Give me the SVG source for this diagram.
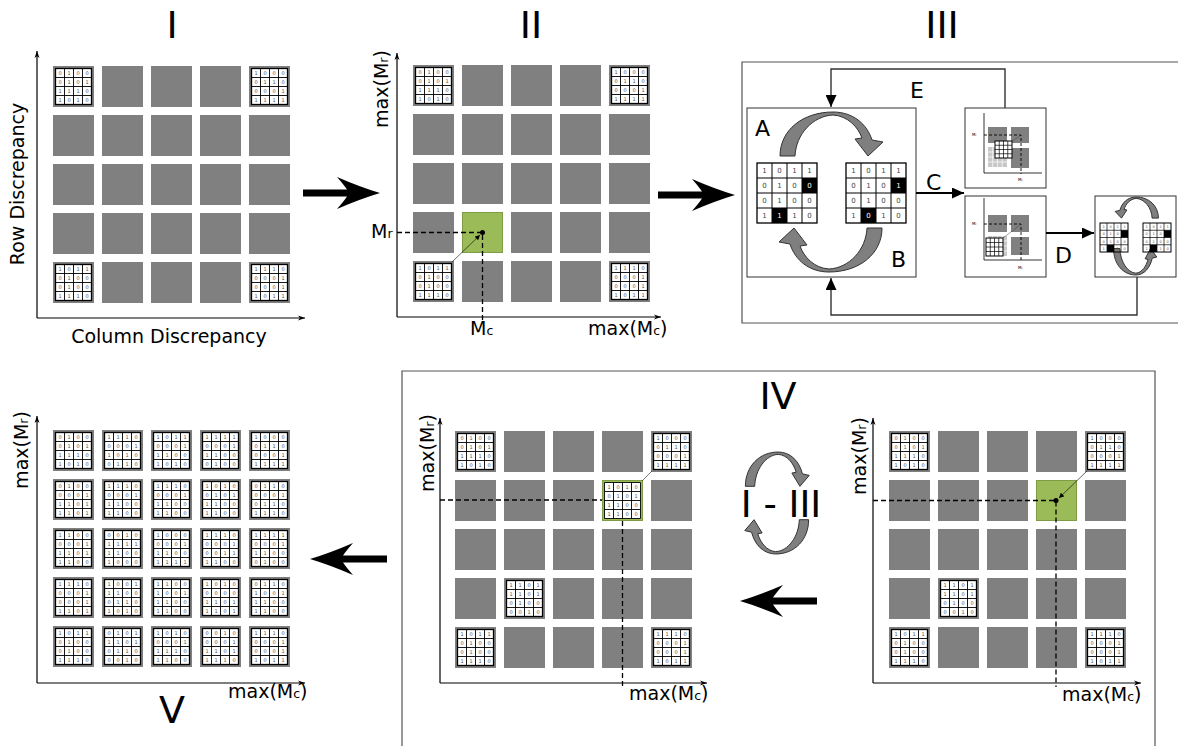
<svg xmlns="http://www.w3.org/2000/svg" xmlns:xlink="http://www.w3.org/1999/xlink" width="1178" height="746" viewBox="0 0 1178 746">
<style>
.c{fill:#808080}
.gr{fill:#9bbb59;stroke:#7e9c45;stroke-width:1}
.ax{stroke:#000;stroke-width:1.2;fill:none}
.dash{stroke:#000;stroke-width:1.3;stroke-dasharray:5 3;fill:none}
.d{font-family:'DejaVu Sans',sans-serif;font-size:5px;fill:#555;text-anchor:middle}
.d7{font-family:'DejaVu Sans',sans-serif;font-size:7px;fill:#444;text-anchor:middle}
.w7{font-family:'DejaVu Sans',sans-serif;font-size:7px;fill:#fff;text-anchor:middle}
.d3{font-family:'DejaVu Sans',sans-serif;font-size:3.5px;fill:#555;text-anchor:middle}
.lbl{font-family:'DejaVu Sans',sans-serif;font-size:19px;fill:#000}
.ttl{font-family:'DejaVu Sans',sans-serif;font-size:38px;fill:#000;text-anchor:middle}
.L{font-family:'DejaVu Sans',sans-serif;font-size:22px;fill:#000}
.tiny{font-family:'DejaVu Sans',sans-serif;font-size:4px;fill:#000}
.frame{fill:none;stroke:#555;stroke-width:1.2}
.carr{fill:#7f7f7f;stroke:#333;stroke-width:1}
.box{fill:#fff;stroke:#333;stroke-width:1}
.con{fill:none;stroke:#333;stroke-width:1.4}
.conb{fill:none;stroke:#000;stroke-width:2}
</style>
<defs>
<marker id="axh" markerUnits="userSpaceOnUse" markerWidth="8" markerHeight="6" refX="7" refY="3" orient="auto"><path d="M0,0.5 L7,3 L0,5.5 L2,3 Z" fill="#000"/></marker>
<marker id="ah" markerUnits="userSpaceOnUse" markerWidth="13" markerHeight="11" refX="12" refY="5.5" orient="auto"><path d="M0,0 L12,5.5 L0,11 Z" fill="#000"/></marker>
<marker id="sh" markerUnits="userSpaceOnUse" markerWidth="6" markerHeight="5" refX="5" refY="2.5" orient="auto"><path d="M0,0 L5,2.5 L0,5 Z" fill="#000"/></marker>
<g id="mg">
<rect x="2.5" y="2.5" width="36" height="36" fill="#fff" stroke="#000" stroke-width="1.3"/>
<path d="M11.5,2.5V38.5M20.5,2.5V38.5M29.5,2.5V38.5M2.5,11.5H38.5M2.5,20.5H38.5M2.5,29.5H38.5" stroke="#000" stroke-width="0.9"/>
</g>
<g id="mx"><rect width="41" height="41" fill="#808080"/><use href="#mg"/></g>
<g id="mTL"><use href="#mx"/><text class="d"><tspan x="7 16 25 34" y="8.7">0100</tspan><tspan x="7 16 25 34" y="17.7">0101</tspan><tspan x="7 16 25 34" y="26.7">1110</tspan><tspan x="7 16 25 34" y="35.7">1010</tspan></text></g>
<g id="mTR"><use href="#mx"/><text class="d"><tspan x="7 16 25 34" y="8.7">1000</tspan><tspan x="7 16 25 34" y="17.7">0110</tspan><tspan x="7 16 25 34" y="26.7">0001</tspan><tspan x="7 16 25 34" y="35.7">1111</tspan></text></g>
<g id="mBL"><use href="#mx"/><text class="d"><tspan x="7 16 25 34" y="8.7">1011</tspan><tspan x="7 16 25 34" y="17.7">0100</tspan><tspan x="7 16 25 34" y="26.7">0100</tspan><tspan x="7 16 25 34" y="35.7">1110</tspan></text></g>
<g id="mBR"><use href="#mx"/><text class="d"><tspan x="7 16 25 34" y="8.7">1110</tspan><tspan x="7 16 25 34" y="17.7">0001</tspan><tspan x="7 16 25 34" y="26.7">0001</tspan><tspan x="7 16 25 34" y="35.7">1011</tspan></text></g>
<g id="m13"><use href="#mx"/><text class="d"><tspan x="7 16 25 34" y="8.7">1101</tspan><tspan x="7 16 25 34" y="17.7">1101</tspan><tspan x="7 16 25 34" y="26.7">0100</tspan><tspan x="7 16 25 34" y="35.7">0010</tspan></text></g>
<path id="ba" d="M0,0 Q-20,-6 -43,-16 Q-36,-8 -33,-3.5 L-77,-3.5 L-77,3.5 L-33,3.5 Q-36,8 -43,16 Q-20,6 0,0 Z" fill="#000"/>
<path id="cu" class="carr" vector-effect="non-scaling-stroke" d="M-51,44 C-51,18 -28,0 2,0 C22,0 36,12 41,28 L52,30 L37,44 L24,27 L31,26 C27,15 17,4 2,3 C-18,4 -35,22 -36,44 Z"/>
<g id="bgrid">
<rect x="45" y="15" width="15" height="15" fill="#000"/><rect x="15" y="45" width="15" height="15" fill="#000"/>
<rect width="60" height="60" fill="none" stroke="#000" stroke-width="1.3"/>
<path d="M15,0V60M30,0V60M45,0V60M0,15H60M0,30H60M0,45H60" stroke="#000" stroke-width="1"/>
</g>
<g id="sgrid">
<rect x="21" y="7.25" width="7" height="7.25" fill="#000"/><rect x="7" y="21.75" width="7" height="7.25" fill="#000"/>
<rect width="28" height="29" fill="none" stroke="#000" stroke-width="1"/>
<path d="M7,0V29M14,0V29M21,0V29M0,7.25H28M0,14.5H28M0,21.75H28" stroke="#000" stroke-width="0.7"/>
</g>
</defs>

<!-- Panel I -->
<g id="panel-I">
<text class="ttl" x="172" y="38">I</text>
<path class="ax" d="M37,318 V51" marker-end="url(#axh)"/>
<path class="ax" d="M37,318 H305" marker-end="url(#axh)"/>
<text class="lbl" x="24" y="184" text-anchor="middle" transform="rotate(-90 24 184)">Row Discrepancy</text>
<text class="lbl" x="169" y="343" text-anchor="middle">Column Discrepancy</text>
<use href="#mTL" x="53" y="66"/>
<rect class="c" x="102" y="66" width="41" height="41"/><rect class="c" x="151" y="66" width="41" height="41"/><rect class="c" x="200" y="66" width="41" height="41"/>
<use href="#mTR" x="249" y="66"/>
<rect class="c" x="53" y="115" width="41" height="41"/><rect class="c" x="102" y="115" width="41" height="41"/><rect class="c" x="151" y="115" width="41" height="41"/><rect class="c" x="200" y="115" width="41" height="41"/><rect class="c" x="249" y="115" width="41" height="41"/>
<rect class="c" x="53" y="164" width="41" height="41"/><rect class="c" x="102" y="164" width="41" height="41"/><rect class="c" x="151" y="164" width="41" height="41"/><rect class="c" x="200" y="164" width="41" height="41"/><rect class="c" x="249" y="164" width="41" height="41"/>
<rect class="c" x="53" y="213" width="41" height="41"/><rect class="c" x="102" y="213" width="41" height="41"/><rect class="c" x="151" y="213" width="41" height="41"/><rect class="c" x="200" y="213" width="41" height="41"/><rect class="c" x="249" y="213" width="41" height="41"/>
<use href="#mBL" x="53" y="262"/>
<rect class="c" x="102" y="262" width="41" height="41"/><rect class="c" x="151" y="262" width="41" height="41"/><rect class="c" x="200" y="262" width="41" height="41"/>
<use href="#mBR" x="249" y="262"/>
</g>

<!-- Panel II -->
<g id="panel-II">
<text class="ttl" x="531" y="38">II</text>
<path class="ax" d="M397,317 V53" marker-end="url(#axh)"/>
<path class="ax" d="M397,317 H661" marker-end="url(#axh)"/>
<text class="lbl" x="388" y="89" text-anchor="middle" transform="rotate(-90 388 89)">max(M<tspan font-size="12.5">r</tspan>)</text>
<text class="lbl" x="588" y="335">max(M<tspan font-size="12.5">c</tspan>)</text>
<text class="lbl" x="371" y="238">M<tspan font-size="12.5">r</tspan></text>
<text class="lbl" x="470" y="335">M<tspan font-size="12.5">c</tspan></text>
<use href="#mTL" x="413" y="65"/>
<rect class="c" x="462" y="65" width="41" height="41"/><rect class="c" x="511" y="65" width="41" height="41"/><rect class="c" x="560" y="65" width="41" height="41"/>
<use href="#mTR" x="609" y="65"/>
<rect class="c" x="413" y="114" width="41" height="41"/><rect class="c" x="462" y="114" width="41" height="41"/><rect class="c" x="511" y="114" width="41" height="41"/><rect class="c" x="560" y="114" width="41" height="41"/><rect class="c" x="609" y="114" width="41" height="41"/>
<rect class="c" x="413" y="163" width="41" height="41"/><rect class="c" x="462" y="163" width="41" height="41"/><rect class="c" x="511" y="163" width="41" height="41"/><rect class="c" x="560" y="163" width="41" height="41"/><rect class="c" x="609" y="163" width="41" height="41"/>
<rect class="c" x="413" y="212" width="41" height="41"/><rect class="gr" x="462.5" y="212.5" width="40" height="40"/><rect class="c" x="511" y="212" width="41" height="41"/><rect class="c" x="560" y="212" width="41" height="41"/><rect class="c" x="609" y="212" width="41" height="41"/>
<use href="#mBL" x="413" y="261"/>
<rect class="c" x="462" y="261" width="41" height="41"/><rect class="c" x="511" y="261" width="41" height="41"/><rect class="c" x="560" y="261" width="41" height="41"/>
<use href="#mBR" x="609" y="261"/>
<path class="dash" d="M397,232.5 H482.5 V323"/>
<path d="M452,262 L480,235" stroke="#000" stroke-width="0.6" fill="none" marker-end="url(#sh)"/>
<circle cx="482.5" cy="232.5" r="2.5" fill="#000"/>
</g>

<!-- Panel III -->
<g id="panel-III">
<text class="ttl" x="942" y="38">III</text>
<path class="frame" d="M1180,62 H742 V323 H1180"/>
<g id="box-AB">
<rect class="box" x="747" y="108" width="169" height="169"/>
<use href="#cu" transform="translate(831,112)"/>
<use href="#cu" transform="translate(831,272) rotate(180)"/>
<text class="L" x="755" y="136">A</text>
<text class="L" x="891" y="267">B</text>
<g transform="translate(757,163)">
<use href="#bgrid"/>
<text class="d7" x="7.5 22.5 37.5 52.5" y="10">1011</text>
<text class="d7" x="7.5 22.5 37.5" y="25">010</text>
<text class="w7" x="52.5" y="25">0</text>
<text class="d7" x="7.5 22.5 37.5 52.5" y="40">0100</text>
<text class="d7" x="7.5" y="55">1</text>
<text class="w7" x="22.5" y="55">1</text>
<text class="d7" x="37.5 52.5" y="55">10</text>
</g>
<g transform="translate(846,163)">
<use href="#bgrid"/>
<text class="d7" x="7.5 22.5 37.5 52.5" y="10">1011</text>
<text class="d7" x="7.5 22.5 37.5" y="25">010</text>
<text class="w7" x="52.5" y="25">1</text>
<text class="d7" x="7.5 22.5 37.5 52.5" y="40">0100</text>
<text class="d7" x="7.5" y="55">1</text>
<text class="w7" x="22.5" y="55">0</text>
<text class="d7" x="37.5 52.5" y="55">10</text>
</g>
</g>
<g id="box-plot1">
<rect class="box" x="965" y="108" width="81" height="80"/>
<path d="M984,113V173H1042" stroke="#000" stroke-width="0.8" fill="none"/>
<rect class="c" x="988" y="127" width="19" height="16"/><rect class="c" x="1011" y="127" width="18" height="16"/><rect class="c" x="1011" y="148" width="18" height="20"/>
<rect x="988" y="147" width="19" height="20" fill="#c8c8c8"/>
<path d="M992.7,147V167M997.5,147V167M1002.2,147V167M988,152H1007M988,157H1007M988,162H1007" stroke="#fff" stroke-width="0.7"/>
<path class="dash" style="stroke-width:0.9;stroke-dasharray:3 2" d="M984,135H1021V174"/>
<rect x="995" y="141" width="17" height="17" fill="#fff" stroke="#000" stroke-width="1"/>
<path d="M999.25,141V158M1003.5,141V158M1007.75,141V158M995,145.25H1012M995,149.5H1012M995,153.75H1012" stroke="#000" stroke-width="0.7"/>
<path d="M1012,141 L1020,136" stroke="#444" stroke-width="0.5"/>
<text class="tiny" x="972" y="136">M<tspan font-size="2.5">r</tspan></text>
<text class="tiny" x="1018" y="181">M<tspan font-size="2.5">c</tspan></text>
</g>
<g id="box-plot2">
<rect class="box" x="965" y="196" width="81" height="81"/>
<path d="M984,198V260H1042" stroke="#000" stroke-width="0.8" fill="none"/>
<rect class="c" x="988" y="215" width="19" height="17"/><rect class="c" x="1011" y="215" width="18" height="17"/><rect class="c" x="1011" y="237" width="18" height="18"/>
<rect x="988" y="236" width="19" height="20" fill="#c8c8c8"/>
<path d="M992.7,236V256M997.5,236V256M1002.2,236V256M988,241H1007M988,246H1007M988,251H1007" stroke="#fff" stroke-width="0.7"/>
<path class="dash" style="stroke-width:0.9;stroke-dasharray:3 2" d="M984,224H1021V262"/>
<path d="M1003,238 L1020,225" stroke="#444" stroke-width="0.5"/>
<rect x="986" y="238" width="17" height="18" fill="#fff" stroke="#000" stroke-width="1"/>
<path d="M990.25,238V256M994.5,238V256M998.75,238V256M986,242.5H1003M986,247H1003M986,251.5H1003" stroke="#000" stroke-width="0.7"/>
<text class="tiny" x="972" y="225">M<tspan font-size="2.5">r</tspan></text>
<text class="tiny" x="1018" y="269">M<tspan font-size="2.5">c</tspan></text>
</g>
<g id="box-D">
<rect class="box" x="1095" y="196" width="81" height="81"/>
<use href="#cu" transform="translate(1137,197) scale(-0.42,0.48)"/>
<use href="#cu" transform="translate(1135,275) scale(0.42,-0.6)"/>
<g transform="translate(1100,223)">
<use href="#sgrid"/>
<text class="d3" x="3.5 10.5 17.5 24.5" y="5">1011</text>
<text class="d3" x="3.5 10.5 17.5" y="12.2">010</text>
<text class="d3" x="3.5 10.5 17.5 24.5" y="19.5">0100</text>
<text class="d3" x="3.5" y="26.7">1</text>
<text class="d3" x="17.5 24.5" y="26.7">10</text>
</g>
<g transform="translate(1143,223)">
<use href="#sgrid"/>
<text class="d3" x="3.5 10.5 17.5 24.5" y="5">1011</text>
<text class="d3" x="3.5 10.5 17.5" y="12.2">010</text>
<text class="d3" x="3.5 10.5 17.5 24.5" y="19.5">0100</text>
<text class="d3" x="3.5" y="26.7">1</text>
<text class="d3" x="17.5 24.5" y="26.7">10</text>
</g>
</g>
<text class="L" x="910" y="98">E</text>
<text class="L" x="926" y="190">C</text>
<text class="L" x="1055" y="263">D</text>
</g>

<!-- Panel IV -->
<g id="panel-IV">
<path class="frame" d="M402,747 V371 H1155 V747"/>
<text class="ttl" x="778" y="409">IV</text>
<text class="ttl" x="781" y="517" style="font-size:37px">I - III</text>
<use href="#cu" transform="translate(777,452) scale(0.62,0.78)"/>
<use href="#cu" transform="translate(777,554) rotate(180) scale(0.62,0.78)"/>
<g id="plot-IV-left">
<path class="ax" d="M440,683 V418" marker-end="url(#axh)"/>
<path class="ax" d="M440,683 H707" marker-end="url(#axh)"/>
<text class="lbl" x="434" y="453" text-anchor="middle" transform="rotate(-90 434 453)">max(M<tspan font-size="12.5">r</tspan>)</text>
<text class="lbl" x="629" y="700">max(M<tspan font-size="12.5">c</tspan>)</text>
<use href="#mTL" x="455" y="431"/>
<rect class="c" x="504" y="431" width="41" height="41"/><rect class="c" x="553" y="431" width="41" height="41"/><rect class="c" x="602" y="431" width="41" height="41"/>
<use href="#mTR" x="651" y="431"/>
<rect class="c" x="455" y="480" width="41" height="41"/><rect class="c" x="504" y="480" width="41" height="41"/><rect class="c" x="553" y="480" width="41" height="41"/>
<rect class="c" x="651" y="480" width="41" height="41"/>
<rect class="c" x="455" y="529" width="41" height="41"/><rect class="c" x="504" y="529" width="41" height="41"/><rect class="c" x="553" y="529" width="41" height="41"/><rect class="c" x="602" y="529" width="41" height="41"/><rect class="c" x="651" y="529" width="41" height="41"/>
<rect class="c" x="455" y="578" width="41" height="41"/><use href="#m13" x="504" y="578"/><rect class="c" x="553" y="578" width="41" height="41"/><rect class="c" x="602" y="578" width="41" height="41"/><rect class="c" x="651" y="578" width="41" height="41"/>
<use href="#mBL" x="455" y="627"/>
<rect class="c" x="504" y="627" width="41" height="41"/><rect class="c" x="553" y="627" width="41" height="41"/><rect class="c" x="602" y="627" width="41" height="41"/>
<use href="#mBR" x="651" y="627"/>
<path class="dash" d="M440,500 H604"/>
<path class="dash" d="M622.5,521 V687"/>
<g transform="translate(602,480)">
<rect x="0.5" y="0.5" width="40" height="40" fill="#9bbb59" stroke="#7e9c45"/>
<rect x="2.5" y="2.5" width="36" height="36" fill="#fff"/>
<path d="M2.5,2.5H38.5V38.5H2.5ZM11.5,2.5V38.5M20.5,2.5V38.5M29.5,2.5V38.5M2.5,11.5H38.5M2.5,20.5H38.5M2.5,29.5H38.5" stroke="#000" stroke-width="0.9" fill="none"/>
<text class="d"><tspan x="7 16 25 34" y="8.7">1010</tspan><tspan x="7 16 25 34" y="17.7">0101</tspan><tspan x="7 16 25 34" y="26.7">1100</tspan><tspan x="7 16 25 34" y="35.7">1100</tspan></text>
</g>
<path d="M652,471 L642,481" stroke="#000" stroke-width="0.5"/>
</g>
<g id="plot-IV-right">
<path class="ax" d="M873,683 V418" marker-end="url(#axh)"/>
<path class="ax" d="M873,683 H1141" marker-end="url(#axh)"/>
<text class="lbl" x="866" y="456" text-anchor="middle" transform="rotate(-90 866 456)">max(M<tspan font-size="12.5">r</tspan>)</text>
<text class="lbl" x="1062" y="701">max(M<tspan font-size="12.5">c</tspan>)</text>
<use href="#mTL" x="889" y="431"/>
<rect class="c" x="938" y="431" width="41" height="41"/><rect class="c" x="987" y="431" width="41" height="41"/><rect class="c" x="1036" y="431" width="41" height="41"/>
<use href="#mTR" x="1085" y="431"/>
<rect class="c" x="889" y="480" width="41" height="41"/><rect class="c" x="938" y="480" width="41" height="41"/><rect class="c" x="987" y="480" width="41" height="41"/><rect class="gr" x="1036.5" y="480.5" width="40" height="40"/><rect class="c" x="1085" y="480" width="41" height="41"/>
<rect class="c" x="889" y="529" width="41" height="41"/><rect class="c" x="938" y="529" width="41" height="41"/><rect class="c" x="987" y="529" width="41" height="41"/><rect class="c" x="1036" y="529" width="41" height="41"/><rect class="c" x="1085" y="529" width="41" height="41"/>
<rect class="c" x="889" y="578" width="41" height="41"/><use href="#m13" x="938" y="578"/><rect class="c" x="987" y="578" width="41" height="41"/><rect class="c" x="1036" y="578" width="41" height="41"/><rect class="c" x="1085" y="578" width="41" height="41"/>
<use href="#mBL" x="889" y="627"/>
<rect class="c" x="938" y="627" width="41" height="41"/><rect class="c" x="987" y="627" width="41" height="41"/><rect class="c" x="1036" y="627" width="41" height="41"/>
<use href="#mBR" x="1085" y="627"/>
<path class="dash" d="M873,500.5 H1056 V687"/>
<path d="M1087,471 L1059,498" stroke="#000" stroke-width="0.6" marker-end="url(#sh)"/>
<circle cx="1056" cy="500.5" r="2.5" fill="#000"/>
</g>
</g>

<!-- Panel V -->
<g id="panel-V">
<text class="ttl" x="172" y="723">V</text>
<path class="ax" d="M37,683 V416" marker-end="url(#axh)"/>
<path class="ax" d="M37,683 H305" marker-end="url(#axh)"/>
<text class="lbl" x="28" y="450" text-anchor="middle" transform="rotate(-90 28 450)">max(M<tspan font-size="12.5">r</tspan>)</text>
<text class="lbl" x="228" y="698">max(M<tspan font-size="12.5">c</tspan>)</text>
<use href="#mTL" x="53" y="430"/>
<g transform="translate(102,430)"><use href="#mx"/><text class="d"><tspan x="7 16 25 34" y="8.7">1110</tspan><tspan x="7 16 25 34" y="17.7">0001</tspan><tspan x="7 16 25 34" y="26.7">1010</tspan><tspan x="7 16 25 34" y="35.7">0110</tspan></text></g>
<g transform="translate(151,430)"><use href="#mx"/><text class="d"><tspan x="7 16 25 34" y="8.7">1011</tspan><tspan x="7 16 25 34" y="17.7">0001</tspan><tspan x="7 16 25 34" y="26.7">1100</tspan><tspan x="7 16 25 34" y="35.7">1010</tspan></text></g>
<g transform="translate(200,430)"><use href="#mx"/><text class="d"><tspan x="7 16 25 34" y="8.7">1111</tspan><tspan x="7 16 25 34" y="17.7">0001</tspan><tspan x="7 16 25 34" y="26.7">1100</tspan><tspan x="7 16 25 34" y="35.7">0100</tspan></text></g>
<use href="#mTR" x="249" y="430"/>
<g transform="translate(53,479)"><use href="#mx"/><text class="d"><tspan x="7 16 25 34" y="8.7">0100</tspan><tspan x="7 16 25 34" y="17.7">0001</tspan><tspan x="7 16 25 34" y="26.7">1101</tspan><tspan x="7 16 25 34" y="35.7">1101</tspan></text></g>
<g transform="translate(102,479)"><use href="#mx"/><text class="d"><tspan x="7 16 25 34" y="8.7">1110</tspan><tspan x="7 16 25 34" y="17.7">0001</tspan><tspan x="7 16 25 34" y="26.7">1100</tspan><tspan x="7 16 25 34" y="35.7">1100</tspan></text></g>
<g transform="translate(151,479)"><use href="#mx"/><text class="d"><tspan x="7 16 25 34" y="8.7">1110</tspan><tspan x="7 16 25 34" y="17.7">0001</tspan><tspan x="7 16 25 34" y="26.7">1100</tspan><tspan x="7 16 25 34" y="35.7">1100</tspan></text></g>
<g transform="translate(200,479)"><use href="#mx"/><text class="d"><tspan x="7 16 25 34" y="8.7">1010</tspan><tspan x="7 16 25 34" y="17.7">0101</tspan><tspan x="7 16 25 34" y="26.7">1100</tspan><tspan x="7 16 25 34" y="35.7">1100</tspan></text></g>
<g transform="translate(249,479)"><use href="#mx"/><text class="d"><tspan x="7 16 25 34" y="8.7">0110</tspan><tspan x="7 16 25 34" y="17.7">0001</tspan><tspan x="7 16 25 34" y="26.7">0110</tspan><tspan x="7 16 25 34" y="35.7">1110</tspan></text></g>
<g transform="translate(53,528)"><use href="#mx"/><text class="d"><tspan x="7 16 25 34" y="8.7">1100</tspan><tspan x="7 16 25 34" y="17.7">0001</tspan><tspan x="7 16 25 34" y="26.7">1101</tspan><tspan x="7 16 25 34" y="35.7">1100</tspan></text></g>
<g transform="translate(102,528)"><use href="#mx"/><text class="d"><tspan x="7 16 25 34" y="8.7">0010</tspan><tspan x="7 16 25 34" y="17.7">1111</tspan><tspan x="7 16 25 34" y="26.7">1100</tspan><tspan x="7 16 25 34" y="35.7">1000</tspan></text></g>
<g transform="translate(151,528)"><use href="#mx"/><text class="d"><tspan x="7 16 25 34" y="8.7">1000</tspan><tspan x="7 16 25 34" y="17.7">0001</tspan><tspan x="7 16 25 34" y="26.7">1100</tspan><tspan x="7 16 25 34" y="35.7">1111</tspan></text></g>
<g transform="translate(200,528)"><use href="#mx"/><text class="d"><tspan x="7 16 25 34" y="8.7">1110</tspan><tspan x="7 16 25 34" y="17.7">0001</tspan><tspan x="7 16 25 34" y="26.7">0011</tspan><tspan x="7 16 25 34" y="35.7">1100</tspan></text></g>
<g transform="translate(249,528)"><use href="#mx"/><text class="d"><tspan x="7 16 25 34" y="8.7">1111</tspan><tspan x="7 16 25 34" y="17.7">0001</tspan><tspan x="7 16 25 34" y="26.7">1100</tspan><tspan x="7 16 25 34" y="35.7">0100</tspan></text></g>
<g transform="translate(53,577)"><use href="#mx"/><text class="d"><tspan x="7 16 25 34" y="8.7">1110</tspan><tspan x="7 16 25 34" y="17.7">0001</tspan><tspan x="7 16 25 34" y="26.7">0001</tspan><tspan x="7 16 25 34" y="35.7">1101</tspan></text></g>
<g transform="translate(102,577)"><use href="#mx"/><text class="d"><tspan x="7 16 25 34" y="8.7">1001</tspan><tspan x="7 16 25 34" y="17.7">1100</tspan><tspan x="7 16 25 34" y="26.7">0110</tspan><tspan x="7 16 25 34" y="35.7">1010</tspan></text></g>
<g transform="translate(151,577)"><use href="#mx"/><text class="d"><tspan x="7 16 25 34" y="8.7">1100</tspan><tspan x="7 16 25 34" y="17.7">1001</tspan><tspan x="7 16 25 34" y="26.7">1100</tspan><tspan x="7 16 25 34" y="35.7">1100</tspan></text></g>
<g transform="translate(200,577)"><use href="#mx"/><text class="d"><tspan x="7 16 25 34" y="8.7">1010</tspan><tspan x="7 16 25 34" y="17.7">0000</tspan><tspan x="7 16 25 34" y="26.7">1101</tspan><tspan x="7 16 25 34" y="35.7">1101</tspan></text></g>
<g transform="translate(249,577)"><use href="#mx"/><text class="d"><tspan x="7 16 25 34" y="8.7">0110</tspan><tspan x="7 16 25 34" y="17.7">1001</tspan><tspan x="7 16 25 34" y="26.7">1100</tspan><tspan x="7 16 25 34" y="35.7">1100</tspan></text></g>
<use href="#mBL" x="53" y="626"/>
<g transform="translate(102,626)"><use href="#mx"/><text class="d"><tspan x="7 16 25 34" y="8.7">0101</tspan><tspan x="7 16 25 34" y="17.7">1101</tspan><tspan x="7 16 25 34" y="26.7">0110</tspan><tspan x="7 16 25 34" y="35.7">0010</tspan></text></g>
<g transform="translate(151,626)"><use href="#mx"/><text class="d"><tspan x="7 16 25 34" y="8.7">1010</tspan><tspan x="7 16 25 34" y="17.7">0001</tspan><tspan x="7 16 25 34" y="26.7">1110</tspan><tspan x="7 16 25 34" y="35.7">1100</tspan></text></g>
<g transform="translate(200,626)"><use href="#mx"/><text class="d"><tspan x="7 16 25 34" y="8.7">0010</tspan><tspan x="7 16 25 34" y="17.7">0001</tspan><tspan x="7 16 25 34" y="26.7">1101</tspan><tspan x="7 16 25 34" y="35.7">1110</tspan></text></g>
<use href="#mBR" x="249" y="626"/>
</g>

<!-- Connectors -->
<g id="connectors">
<use href="#ba" transform="translate(380,193)"/>
<use href="#ba" transform="translate(735,195)"/>
<use href="#ba" transform="translate(740,601) scale(-1,1)"/>
<use href="#ba" transform="translate(310,559) scale(-1,1)"/>
<path class="con" d="M1005,108 V69 H831 V107" marker-end="url(#ah)"/>
<path class="con" d="M1137,277 V315 H831 V278" marker-end="url(#ah)"/>
<path class="conb" d="M916,193 H964" marker-end="url(#ah)"/>
<path class="conb" d="M1046,233 H1094" marker-end="url(#ah)"/>
</g>
</svg>
